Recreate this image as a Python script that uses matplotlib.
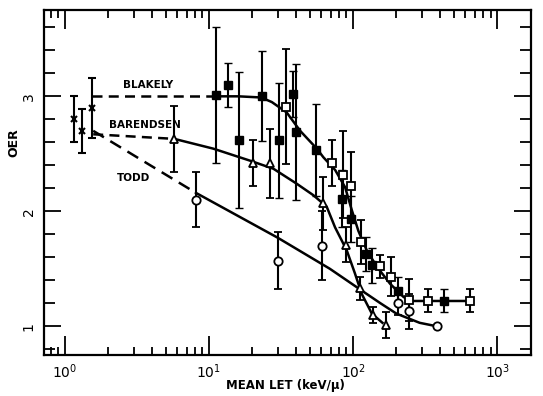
import matplotlib
matplotlib.use("Agg")
import matplotlib.pyplot as plt
from matplotlib.ticker import LogLocator, FixedLocator, NullFormatter, MultipleLocator

# ---- data ----
cross_x = [1.16, 1.31, 1.53]
cross_y = [2.80, 2.70, 2.90]
cross_err = [0.20, 0.19, 0.26]

blak_fill_x = [11.2, 13.5, 16.2, 23.5, 30.5, 38.5, 40.2, 55.3, 84.3, 96.0, 123, 135, 206, 431]
blak_fill_y = [3.01, 3.10, 2.62, 3.00, 2.62, 3.02, 2.69, 2.53, 2.11, 1.93, 1.63, 1.53, 1.31, 1.22]
blak_fill_err = [0.59, 0.19, 0.59, 0.39, 0.50, 0.20, 0.59, 0.40, 0.25, 0.20, 0.15, 0.15, 0.12, 0.10]

blak_open_x = [34.3, 71.0, 85.7, 97.0, 113.6, 154, 184, 245, 333, 649]
blak_open_y = [2.91, 2.42, 2.32, 2.22, 1.73, 1.52, 1.43, 1.23, 1.22, 1.22]
blak_open_err = [0.50, 0.20, 0.38, 0.30, 0.19, 0.10, 0.17, 0.18, 0.10, 0.10]

bar_x = [5.74, 20.3, 26.5, 62.2, 89.0, 112, 138, 170]
bar_y = [2.63, 2.42, 2.42, 2.07, 1.71, 1.33, 1.10, 1.01]
bar_err = [0.29, 0.20, 0.30, 0.23, 0.15, 0.10, 0.07, 0.11]

todd_x = [8.12, 30.0, 60.6, 204, 245]
todd_y = [2.10, 1.57, 1.70, 1.20, 1.13]
todd_err = [0.24, 0.25, 0.30, 0.10, 0.15]
todd_end_x = [381]
todd_end_y = [1.00]

# fitted curves (hand-drawn in the original)
blak_curve_x = [11.2, 16, 23, 27.3, 34.6, 42.9, 56, 62.2, 75, 88, 98, 108.8, 124.5, 146, 180.6, 224, 249, 649]
blak_curve_y = [3.00, 3.00, 2.99, 2.95, 2.86, 2.70, 2.545, 2.47, 2.36, 2.21, 2.01, 1.83, 1.66, 1.52, 1.37, 1.255, 1.22, 1.22]
blak_dash_x = [1.55, 11.2]
blak_dash_y = [3.00, 3.00]

bar_curve_x = [5.74, 10.7, 19.3, 28, 40.6, 53, 65.6, 75, 90.4, 103, 115, 135, 160]
bar_curve_y = [2.63, 2.545, 2.44, 2.37, 2.24, 2.14, 2.04, 1.86, 1.66, 1.46, 1.28, 1.11, 1.03]
bar_dash_x = [1.57, 5.74]
bar_dash_y = [2.67, 2.63]

todd_curve_x = [8.12, 30, 69, 115, 155, 200, 290, 381]
todd_curve_y = [2.16, 1.77, 1.50, 1.31, 1.20, 1.11, 1.03, 1.00]
todd_dash_x = [1.57, 8.12]
todd_dash_y = [2.70, 2.16]

x_ticks = [1, 10, 100, 1000]
x_ticklabels = [r"$10^0$", r"$10^1$", r"$10^2$", r"$10^3$"]
y_ticks = [1, 2, 3]

# ---- figure ----
fig = plt.figure(figsize=(5.43, 3.96), dpi=100)
ax = fig.add_axes([0.081, 0.1035, 0.897, 0.871])
ax.set_xscale("log")
ax.set_xlim(0.715, 1720)
ax.set_ylim(0.75, 3.75)

lw = 1.8
ax.plot(blak_dash_x, blak_dash_y, color="k", lw=lw, ls=(0, (4, 2.5)))
ax.plot(bar_dash_x, bar_dash_y, color="k", lw=lw, ls=(0, (4, 2.5)))
ax.plot(todd_dash_x, todd_dash_y, color="k", lw=lw, ls=(0, (5, 3)))
ax.plot(blak_curve_x, blak_curve_y, color="k", lw=lw)
ax.plot(bar_curve_x, bar_curve_y, color="k", lw=lw)
ax.plot(todd_curve_x, todd_curve_y, color="k", lw=lw)

ms = 6
ekw = dict(ecolor="k", elinewidth=1.5, capsize=3, capthick=1.5, ls="none")
ax.errorbar(cross_x, cross_y, yerr=cross_err, fmt="x", mec="k", mew=1.5, ms=5, **ekw)
ax.errorbar(bar_x, bar_y, yerr=bar_err, fmt="^", mfc="white", mec="k", mew=1.3, ms=ms, **ekw)
ax.errorbar(todd_x, todd_y, yerr=todd_err, fmt="o", mfc="white", mec="k", mew=1.3, ms=ms, **ekw)
ax.plot(todd_end_x, todd_end_y, "o", mfc="white", mec="k", mew=1.3, ms=ms)
ax.errorbar(blak_open_x, blak_open_y, yerr=blak_open_err, fmt="s", mfc="white", mec="k", mew=1.3, ms=ms, **ekw)
ax.errorbar(blak_fill_x, blak_fill_y, yerr=blak_fill_err, fmt="s", mfc="k", mec="k", mew=1.0, ms=ms, **ekw)

tkw = dict(fontsize=7.5, fontweight="bold", ha="center", va="center")
ax.text(3.79, 3.10, "BLAKELY", **tkw)
ax.text(3.59, 2.75, "BARENDSEN", **tkw)
ax.text(2.98, 2.29, "TODD", **tkw)

# ticks
ax.xaxis.set_major_locator(FixedLocator(x_ticks))
ax.set_xticklabels(x_ticklabels, fontsize=10)
ax.xaxis.set_minor_locator(LogLocator(base=10, subs=range(2, 10), numticks=20))
ax.xaxis.set_minor_formatter(NullFormatter())
ax.yaxis.set_major_locator(FixedLocator(y_ticks))
ax.yaxis.set_minor_locator(MultipleLocator(0.2))
ax.set_yticklabels([str(v) for v in y_ticks], rotation=90, va="center", fontsize=10)

ax.tick_params(which="both", direction="in", top=True, right=True, width=1.3)
ax.tick_params(axis="x", which="major", length=14, pad=5)
ax.tick_params(axis="x", which="minor", length=6)
ax.tick_params(axis="y", which="major", length=12, pad=6)
ax.tick_params(axis="y", which="minor", length=8)
for s in ax.spines.values():
    s.set_linewidth(1.6)

ax.set_xlabel("MEAN LET (keV/\u03bc)", fontsize=8.5, fontweight="bold")
ax.xaxis.set_label_coords(0.495, -0.07)
ax.set_ylabel("OER", fontsize=9, fontweight="bold")
ax.yaxis.set_label_coords(-0.049, 0.617)

fig.savefig("out.png", dpi=100)
